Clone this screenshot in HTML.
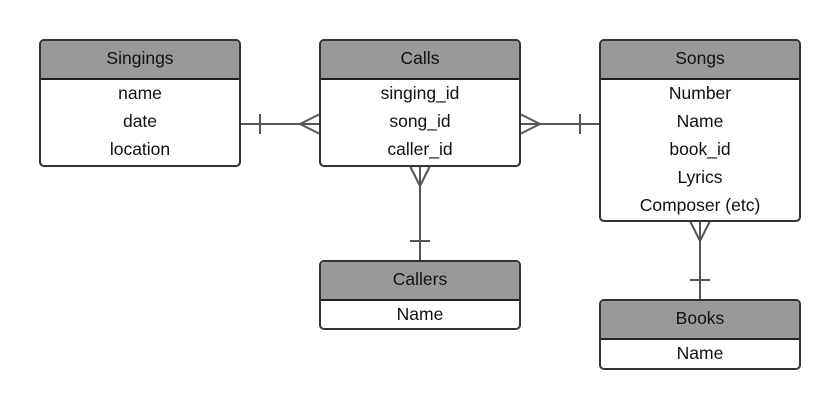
<!DOCTYPE html>
<html><head><style>
body{margin:0;background:#fff;width:840px;height:411px;overflow:hidden;position:relative;font-family:"Liberation Sans",sans-serif;}
.b{position:absolute;border:2px solid #333;border-radius:5px;background:#fff;box-sizing:border-box;overflow:hidden;}
.h{background:#999;border-bottom:2px solid #222;height:37px;line-height:35px;text-align:center;font-size:17.5px;color:#111;}
.r{text-align:center;font-size:17.5px;color:#111;height:28px;line-height:26px;}
svg{position:absolute;left:0;top:0}
</style></head><body>
<svg width="840" height="411">
<g stroke="#555" stroke-width="2" fill="none">
<line x1="240" y1="124" x2="320" y2="124"/><line x1="260" y1="114" x2="260" y2="134"/>
<polyline points="320,114 300,124 320,134"/>
<line x1="520" y1="124" x2="600" y2="124"/><line x1="580" y1="114" x2="580" y2="134"/>
<polyline points="520,114 540,124 520,134"/>
<line x1="420" y1="166" x2="420" y2="261"/><line x1="410" y1="241" x2="430" y2="241"/>
<polyline points="410,166 420,186 430,166"/>
<line x1="700" y1="221" x2="700" y2="300"/><line x1="690" y1="280" x2="710" y2="280"/>
<polyline points="690,221 700,241 710,221"/>
</g></svg>
<div class="b" style="left:39px;top:39px;width:202px;height:128px"><div class="h">Singings</div><div class="r">name</div><div class="r">date</div><div class="r">location</div></div>
<div class="b" style="left:319px;top:39px;width:202px;height:128px"><div class="h">Calls</div><div class="r">singing_id</div><div class="r">song_id</div><div class="r">caller_id</div></div>
<div class="b" style="left:599px;top:39px;width:202px;height:183px"><div class="h">Songs</div><div class="r">Number</div><div class="r">Name</div><div class="r">book_id</div><div class="r">Lyrics</div><div class="r">Composer (etc)</div></div>
<div class="b" style="left:319px;top:260px;width:202px;height:70px"><div class="h">Callers</div><div class="r">Name</div></div>
<div class="b" style="left:599px;top:299px;width:202px;height:71px"><div class="h">Books</div><div class="r">Name</div></div>
</body></html>
